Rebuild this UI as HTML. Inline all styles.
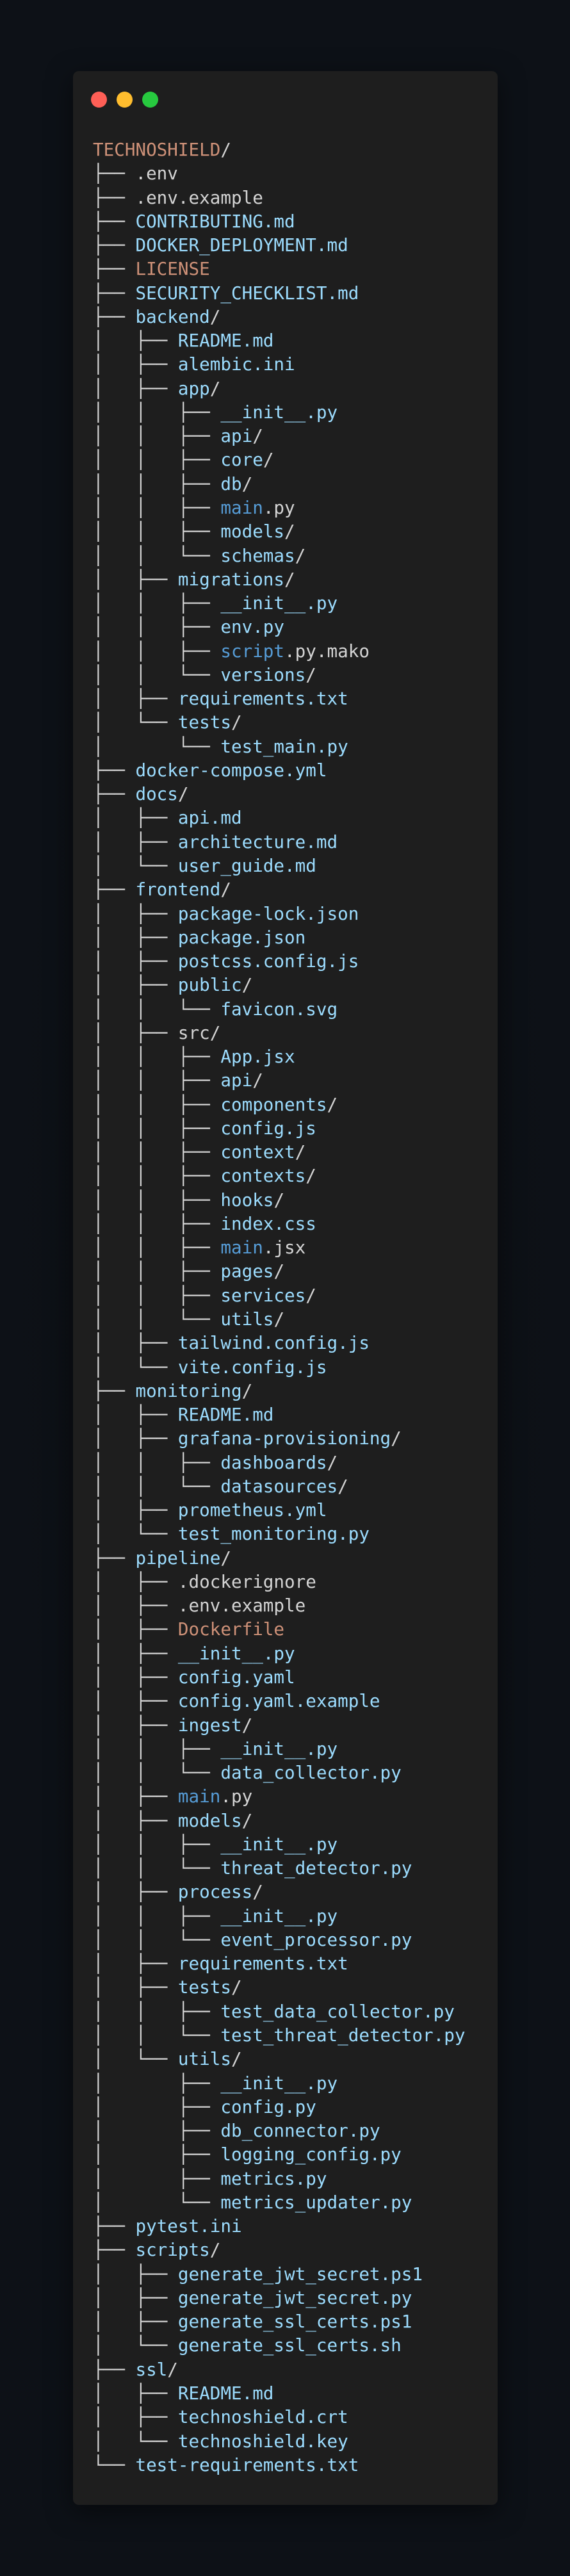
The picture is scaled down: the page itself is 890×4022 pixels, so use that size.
<!DOCTYPE html>
<html><head><meta charset="utf-8"><style>
html,body{margin:0;padding:0}
body{width:890px;height:4022px;background:radial-gradient(ellipse at center,#0b0e13 0%,#0d1117 70%);position:relative;overflow:hidden}
.card{position:absolute;left:114px;top:111px;width:663px;height:3800px;background:#1e1e1e;border-radius:9px;box-shadow:0 10px 40px rgba(0,0,0,.5)}
.dot{position:absolute;top:143px;width:25px;height:25px;border-radius:50%}
pre{position:absolute;left:145px;top:215px;margin:0;font-family:"DejaVu Sans Mono","Liberation Mono",monospace;font-size:27.6px;line-height:37.26px;color:#d4d4d4;white-space:pre}
b{font-weight:normal;color:#9cdcfe}
i{font-style:normal;color:#ce9178}
u{text-decoration:none;color:#569cd6}
</style></head><body>
<div class="card"></div>
<div class="dot" style="left:142px;background:#ff5f56"></div>
<div class="dot" style="left:182px;background:#ffbd2e"></div>
<div class="dot" style="left:222px;background:#27c93f"></div>
<pre><i>TECHNOSHIELD</i>/
├── .env
├── .env.example
├── <b>CONTRIBUTING.md</b>
├── <b>DOCKER_DEPLOYMENT.md</b>
├── <i>LICENSE</i>
├── <b>SECURITY_CHECKLIST.md</b>
├── <b>backend</b>/
│   ├── <b>README.md</b>
│   ├── <b>alembic.ini</b>
│   ├── <b>app</b>/
│   │   ├── <b>__init__.py</b>
│   │   ├── <b>api</b>/
│   │   ├── <b>core</b>/
│   │   ├── <b>db</b>/
│   │   ├── <u>main</u>.py
│   │   ├── <b>models</b>/
│   │   └── <b>schemas</b>/
│   ├── <b>migrations</b>/
│   │   ├── <b>__init__.py</b>
│   │   ├── <b>env.py</b>
│   │   ├── <u>script</u>.py.mako
│   │   └── <b>versions</b>/
│   ├── <b>requirements.txt</b>
│   └── <b>tests</b>/
│       └── <b>test_main.py</b>
├── <b>docker-compose.yml</b>
├── <b>docs</b>/
│   ├── <b>api.md</b>
│   ├── <b>architecture.md</b>
│   └── <b>user_guide.md</b>
├── <b>frontend</b>/
│   ├── <b>package-lock.json</b>
│   ├── <b>package.json</b>
│   ├── <b>postcss.config.js</b>
│   ├── <b>public</b>/
│   │   └── <b>favicon.svg</b>
│   ├── src/
│   │   ├── <b>App.jsx</b>
│   │   ├── <b>api</b>/
│   │   ├── <b>components</b>/
│   │   ├── <b>config.js</b>
│   │   ├── <b>context</b>/
│   │   ├── <b>contexts</b>/
│   │   ├── <b>hooks</b>/
│   │   ├── <b>index.css</b>
│   │   ├── <u>main</u>.jsx
│   │   ├── <b>pages</b>/
│   │   ├── <b>services</b>/
│   │   └── <b>utils</b>/
│   ├── <b>tailwind.config.js</b>
│   └── <b>vite.config.js</b>
├── <b>monitoring</b>/
│   ├── <b>README.md</b>
│   ├── <b>grafana-provisioning</b>/
│   │   ├── <b>dashboards</b>/
│   │   └── <b>datasources</b>/
│   ├── <b>prometheus.yml</b>
│   └── <b>test_monitoring.py</b>
├── <b>pipeline</b>/
│   ├── .dockerignore
│   ├── .env.example
│   ├── <i>Dockerfile</i>
│   ├── <b>__init__.py</b>
│   ├── <b>config.yaml</b>
│   ├── <b>config.yaml.example</b>
│   ├── <b>ingest</b>/
│   │   ├── <b>__init__.py</b>
│   │   └── <b>data_collector.py</b>
│   ├── <u>main</u>.py
│   ├── <b>models</b>/
│   │   ├── <b>__init__.py</b>
│   │   └── <b>threat_detector.py</b>
│   ├── <b>process</b>/
│   │   ├── <b>__init__.py</b>
│   │   └── <b>event_processor.py</b>
│   ├── <b>requirements.txt</b>
│   ├── <b>tests</b>/
│   │   ├── <b>test_data_collector.py</b>
│   │   └── <b>test_threat_detector.py</b>
│   └── <b>utils</b>/
│       ├── <b>__init__.py</b>
│       ├── <b>config.py</b>
│       ├── <b>db_connector.py</b>
│       ├── <b>logging_config.py</b>
│       ├── <b>metrics.py</b>
│       └── <b>metrics_updater.py</b>
├── <b>pytest.ini</b>
├── <b>scripts</b>/
│   ├── <b>generate_jwt_secret.ps1</b>
│   ├── <b>generate_jwt_secret.py</b>
│   ├── <b>generate_ssl_certs.ps1</b>
│   └── <b>generate_ssl_certs.sh</b>
├── <b>ssl</b>/
│   ├── <b>README.md</b>
│   ├── <b>technoshield.crt</b>
│   └── <b>technoshield.key</b>
└── <b>test-requirements.txt</b></pre>
</body></html>
